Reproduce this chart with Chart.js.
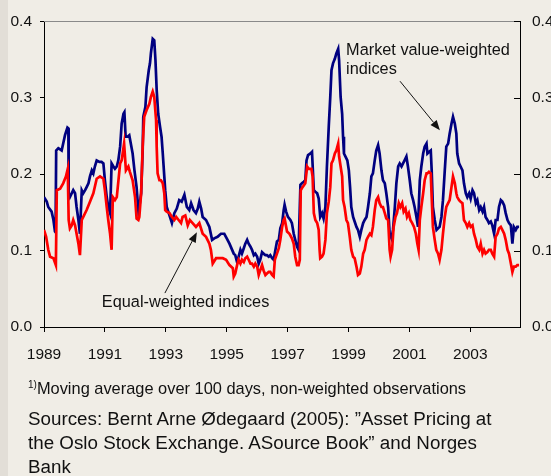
<!DOCTYPE html>
<html lang="en">

<head>
    <meta charset="UTF-8">
    <title>Volatility Oslo Stock Exchange</title>
    <script src="https://cdn.jsdelivr.net/npm/chart.js@4.4.0/dist/chart.umd.min.js"></script>
    <style>
        body { margin: 0; background: #f0ede6; font-family: 'Liberation Sans', Arial, sans-serif; color: #111; }
        #wrap { position: relative; width: 551px; height: 476px; overflow: hidden; }
        #strip { position: absolute; left: 0; top: 0; width: 8px; height: 476px; background: #e2ded7; }
        .note { position: absolute; left: 28px; top: 378px; font-size: 16.4px; line-height: 20px; white-space: nowrap; }
        .note sup { font-size: 10px; vertical-align: 6px; line-height: 0; }
        .src { position: absolute; left: 28px; top: 407px; font-size: 18.8px; line-height: 24px; white-space: nowrap; }
    </style>
</head>

<body>
    <div id="wrap">
        <div id="strip"></div>
        <canvas id="myChart"></canvas>
        <div class="note"><sup>1)</sup>Moving average over 100 days, non-weighted observations</div>
        <div class="src">Sources: Bernt Arne Ødegaard (2005): ”Asset Pricing at<br>the Oslo Stock Exchange. ASource Book” and Norges<br>Bank</div>
    </div>

    <script>
        // market value-weighted indices (blue)
        const mvYears = [
            1989.00, 1989.09, 1989.14, 1989.25, 1989.31, 1989.36, 1989.38, 1989.40, 1989.47, 1989.58,
            1989.63, 1989.69, 1989.77, 1989.80, 1989.81, 1989.85, 1989.96, 1990.02, 1990.07, 1990.13,
            1990.18, 1990.24, 1990.29, 1990.35, 1990.40, 1990.46, 1990.51, 1990.57, 1990.62, 1990.67,
            1990.73, 1990.82, 1990.89, 1990.95, 1991.00, 1991.06, 1991.11, 1991.17, 1991.22, 1991.28,
            1991.33, 1991.39, 1991.44, 1991.50, 1991.55, 1991.61, 1991.64, 1991.68, 1991.74, 1991.80,
            1991.85, 1991.91, 1991.97, 1992.04, 1992.10, 1992.13, 1992.19, 1992.24, 1992.26, 1992.33,
            1992.37, 1992.44, 1992.48, 1992.51, 1992.57, 1992.62, 1992.66, 1992.70, 1992.75, 1992.81,
            1992.86, 1992.90, 1992.95, 1992.98, 1993.03, 1993.12, 1993.20, 1993.28, 1993.36, 1993.44,
            1993.52, 1993.61, 1993.69, 1993.77, 1993.83, 1993.91, 1993.99, 1994.05, 1994.10, 1994.16,
            1994.21, 1994.32, 1994.43, 1994.52, 1994.59, 1994.70, 1994.81, 1994.92, 1995.00, 1995.09,
            1995.23, 1995.28, 1995.34, 1995.39, 1995.45, 1995.50, 1995.56, 1995.61, 1995.67, 1995.72,
            1995.78, 1995.83, 1995.89, 1995.94, 1996.00, 1996.05, 1996.10, 1996.16, 1996.21, 1996.27,
            1996.32, 1996.38, 1996.43, 1996.49, 1996.54, 1996.60, 1996.65, 1996.71, 1996.76, 1996.82,
            1996.87, 1996.90, 1996.95, 1997.01, 1997.09, 1997.14, 1997.20, 1997.25, 1997.31, 1997.36,
            1997.42, 1997.47, 1997.53, 1997.58, 1997.62, 1997.67, 1997.75, 1997.80, 1997.86, 1997.91,
            1997.97, 1998.02, 1998.07, 1998.13, 1998.18, 1998.24, 1998.29, 1998.35, 1998.40, 1998.44,
            1998.49, 1998.55, 1998.60, 1998.66, 1998.69, 1998.74, 1998.79, 1998.82, 1998.85, 1998.90,
            1998.96, 1999.01, 1999.05, 1999.09, 1999.15, 1999.20, 1999.26, 1999.31, 1999.37, 1999.42,
            1999.48, 1999.53, 1999.59, 1999.64, 1999.70, 1999.75, 1999.80, 1999.86, 1999.91, 1999.97,
            2000.02, 2000.08, 2000.13, 2000.19, 2000.24, 2000.30, 2000.35, 2000.41, 2000.46, 2000.52,
            2000.57, 2000.63, 2000.68, 2000.74, 2000.79, 2000.84, 2000.90, 2000.95, 2001.01, 2001.06,
            2001.12, 2001.17, 2001.23, 2001.28, 2001.34, 2001.39, 2001.45, 2001.50, 2001.56, 2001.59,
            2001.64, 2001.70, 2001.73, 2001.77, 2001.83, 2001.89, 2001.94, 2001.99, 2002.05, 2002.10,
            2002.16, 2002.21, 2002.27, 2002.32, 2002.38, 2002.43, 2002.49, 2002.54, 2002.57, 2002.63,
            2002.68, 2002.74, 2002.79, 2002.85, 2002.90, 2002.96, 2003.01, 2003.07, 2003.12, 2003.18,
            2003.23, 2003.29, 2003.34, 2003.40, 2003.45, 2003.50, 2003.56, 2003.61, 2003.67, 2003.72,
            2003.78, 2003.83, 2003.89, 2003.94, 2004.00, 2004.05, 2004.11, 2004.16, 2004.22, 2004.27,
            2004.33, 2004.38, 2004.43, 2004.49, 2004.54, 2004.60
        ];
        const mvValues = [
            0.170, 0.164, 0.157, 0.151, 0.140, 0.125, 0.124, 0.231, 0.234, 0.231,
            0.240, 0.251, 0.261, 0.260, 0.175, 0.170, 0.179, 0.175, 0.157, 0.140,
            0.122, 0.179, 0.175, 0.179, 0.183, 0.188, 0.197, 0.205, 0.201, 0.210,
            0.218, 0.216, 0.216, 0.214, 0.192, 0.170, 0.157, 0.149, 0.214, 0.210,
            0.207, 0.210, 0.218, 0.236, 0.266, 0.279, 0.281, 0.249, 0.249, 0.251,
            0.240, 0.227, 0.205, 0.183, 0.151, 0.157, 0.175, 0.231, 0.275, 0.288,
            0.314, 0.336, 0.345, 0.358, 0.377, 0.375, 0.349, 0.310, 0.279, 0.262,
            0.249, 0.227, 0.197, 0.179, 0.157, 0.146, 0.136, 0.149, 0.155, 0.166,
            0.164, 0.173, 0.157, 0.153, 0.162, 0.153, 0.149, 0.155, 0.164, 0.155,
            0.144, 0.140, 0.131, 0.114, 0.116, 0.118, 0.122, 0.122, 0.116, 0.109,
            0.096, 0.094, 0.085, 0.092, 0.101, 0.096, 0.103, 0.109, 0.114, 0.109,
            0.105, 0.101, 0.094, 0.096, 0.092, 0.083, 0.088, 0.098, 0.096, 0.094,
            0.094, 0.092, 0.094, 0.090, 0.088, 0.101, 0.112, 0.114, 0.129, 0.136,
            0.153, 0.160, 0.151, 0.144, 0.140, 0.136, 0.122, 0.114, 0.105, 0.101,
            0.186, 0.188, 0.190, 0.192, 0.218, 0.225, 0.227, 0.229, 0.179, 0.177,
            0.175, 0.168, 0.144, 0.149, 0.142, 0.157, 0.210, 0.262, 0.301, 0.336,
            0.345, 0.351, 0.358, 0.364, 0.349, 0.301, 0.279, 0.249, 0.227, 0.223,
            0.218, 0.205, 0.183, 0.157, 0.144, 0.138, 0.131, 0.127, 0.118, 0.127,
            0.136, 0.140, 0.144, 0.157, 0.175, 0.197, 0.201, 0.218, 0.231, 0.238,
            0.227, 0.205, 0.192, 0.188, 0.175, 0.157, 0.122, 0.116, 0.127, 0.157,
            0.188, 0.210, 0.214, 0.210, 0.214, 0.218, 0.223, 0.210, 0.192, 0.175,
            0.166, 0.157, 0.144, 0.131, 0.192, 0.210, 0.227, 0.236, 0.240, 0.227,
            0.229, 0.231, 0.205, 0.157, 0.140, 0.127, 0.129, 0.131, 0.144, 0.166,
            0.205, 0.236, 0.240, 0.253, 0.266, 0.275, 0.266, 0.253, 0.227, 0.214,
            0.210, 0.205, 0.188, 0.175, 0.170, 0.175, 0.168, 0.179, 0.175, 0.162,
            0.166, 0.153, 0.157, 0.151, 0.157, 0.144, 0.140, 0.136, 0.138, 0.133,
            0.122, 0.140, 0.140, 0.157, 0.166, 0.164, 0.159, 0.149, 0.140, 0.136,
            0.133, 0.109, 0.131, 0.127, 0.131, 0.131
        ];

        // equal-weighted indices (red)
        const ewYears = [
            1989.00, 1989.07, 1989.14, 1989.20, 1989.31, 1989.39, 1989.42, 1989.53, 1989.63, 1989.72,
            1989.78, 1989.81, 1989.85, 1989.91, 1989.96, 1990.02, 1990.07, 1990.13, 1990.18, 1990.24,
            1990.29, 1990.40, 1990.51, 1990.62, 1990.73, 1990.84, 1990.95, 1991.00, 1991.06, 1991.11,
            1991.17, 1991.22, 1991.26, 1991.33, 1991.39, 1991.50, 1991.55, 1991.63, 1991.69, 1991.77,
            1991.82, 1991.91, 1991.99, 1992.04, 1992.10, 1992.13, 1992.19, 1992.24, 1992.29, 1992.37,
            1992.46, 1992.51, 1992.57, 1992.62, 1992.68, 1992.70, 1992.73, 1992.79, 1992.84, 1992.90,
            1992.95, 1992.98, 1993.03, 1993.12, 1993.20, 1993.28, 1993.34, 1993.42, 1993.50, 1993.55,
            1993.64, 1993.72, 1993.79, 1993.88, 1993.99, 1994.10, 1994.21, 1994.32, 1994.43, 1994.48,
            1994.54, 1994.65, 1994.76, 1994.87, 1994.98, 1995.09, 1995.20, 1995.23, 1995.28, 1995.34,
            1995.39, 1995.45, 1995.50, 1995.56, 1995.61, 1995.67, 1995.72, 1995.78, 1995.83, 1995.89,
            1995.94, 1996.00, 1996.05, 1996.10, 1996.16, 1996.21, 1996.27, 1996.32, 1996.38, 1996.43,
            1996.49, 1996.54, 1996.58, 1996.65, 1996.71, 1996.76, 1996.82, 1996.87, 1996.90, 1996.98,
            1997.06, 1997.14, 1997.20, 1997.25, 1997.31, 1997.36, 1997.40, 1997.43, 1997.49, 1997.58,
            1997.64, 1997.69, 1997.78, 1997.82, 1997.86, 1997.91, 1997.97, 1998.02, 1998.05, 1998.07,
            1998.13, 1998.18, 1998.24, 1998.29, 1998.35, 1998.40, 1998.44, 1998.49, 1998.55, 1998.60,
            1998.66, 1998.69, 1998.74, 1998.79, 1998.82, 1998.87, 1998.93, 1998.98, 1999.04, 1999.09,
            1999.15, 1999.20, 1999.26, 1999.31, 1999.37, 1999.42, 1999.48, 1999.53, 1999.59, 1999.64,
            1999.70, 1999.75, 1999.80, 1999.86, 1999.91, 1999.97, 2000.02, 2000.08, 2000.13, 2000.19,
            2000.24, 2000.30, 2000.35, 2000.38, 2000.43, 2000.48, 2000.54, 2000.59, 2000.65, 2000.70,
            2000.76, 2000.81, 2000.87, 2000.92, 2000.98, 2001.03, 2001.09, 2001.15, 2001.21, 2001.26,
            2001.30, 2001.34, 2001.39, 2001.45, 2001.50, 2001.56, 2001.59, 2001.64, 2001.70, 2001.73,
            2001.77, 2001.83, 2001.88, 2001.94, 2001.99, 2002.05, 2002.10, 2002.16, 2002.21, 2002.27,
            2002.32, 2002.38, 2002.43, 2002.49, 2002.54, 2002.57, 2002.63, 2002.68, 2002.74, 2002.79,
            2002.85, 2002.90, 2002.96, 2003.01, 2003.07, 2003.12, 2003.18, 2003.23, 2003.29, 2003.34,
            2003.40, 2003.45, 2003.50, 2003.56, 2003.61, 2003.67, 2003.72, 2003.78, 2003.83, 2003.89,
            2003.94, 2004.00, 2004.05, 2004.11, 2004.16, 2004.22, 2004.27, 2004.33, 2004.38, 2004.43,
            2004.49, 2004.54, 2004.60
        ];
        const ewValues = [
            0.127, 0.118, 0.101, 0.092, 0.090, 0.081, 0.179, 0.181, 0.188, 0.197,
            0.207, 0.140, 0.129, 0.133, 0.140, 0.133, 0.122, 0.109, 0.094, 0.140,
            0.144, 0.153, 0.164, 0.175, 0.194, 0.197, 0.194, 0.179, 0.157, 0.140,
            0.122, 0.101, 0.170, 0.166, 0.170, 0.214, 0.218, 0.240, 0.205, 0.210,
            0.203, 0.192, 0.170, 0.142, 0.140, 0.144, 0.175, 0.236, 0.275, 0.284,
            0.292, 0.301, 0.308, 0.301, 0.271, 0.236, 0.201, 0.192, 0.192, 0.188,
            0.175, 0.153, 0.151, 0.149, 0.144, 0.140, 0.144, 0.140, 0.136, 0.144,
            0.146, 0.133, 0.140, 0.136, 0.131, 0.136, 0.122, 0.118, 0.109, 0.101,
            0.083, 0.090, 0.090, 0.090, 0.088, 0.081, 0.077, 0.066, 0.070, 0.081,
            0.088, 0.083, 0.088, 0.085, 0.090, 0.092, 0.088, 0.083, 0.083, 0.079,
            0.083, 0.079, 0.068, 0.074, 0.081, 0.074, 0.068, 0.070, 0.072, 0.072,
            0.068, 0.066, 0.088, 0.096, 0.103, 0.114, 0.131, 0.140, 0.142, 0.125,
            0.122, 0.116, 0.109, 0.092, 0.081, 0.081, 0.088, 0.179, 0.183, 0.188,
            0.210, 0.207, 0.207, 0.197, 0.149, 0.140, 0.136, 0.127, 0.101, 0.090,
            0.092, 0.096, 0.114, 0.149, 0.164, 0.183, 0.214, 0.218, 0.227, 0.231,
            0.240, 0.223, 0.210, 0.197, 0.166, 0.157, 0.140, 0.136, 0.118, 0.101,
            0.092, 0.090, 0.079, 0.068, 0.070, 0.079, 0.096, 0.101, 0.114, 0.118,
            0.122, 0.120, 0.131, 0.153, 0.166, 0.170, 0.162, 0.157, 0.157, 0.149,
            0.142, 0.140, 0.101, 0.092, 0.101, 0.131, 0.144, 0.149, 0.162, 0.157,
            0.162, 0.151, 0.155, 0.144, 0.149, 0.140, 0.136, 0.131, 0.122, 0.109,
            0.101, 0.140, 0.157, 0.175, 0.192, 0.201, 0.201, 0.203, 0.201, 0.170,
            0.131, 0.114, 0.101, 0.096, 0.088, 0.101, 0.122, 0.144, 0.157, 0.162,
            0.166, 0.183, 0.197, 0.188, 0.175, 0.170, 0.166, 0.164, 0.162, 0.140,
            0.136, 0.131, 0.136, 0.131, 0.133, 0.122, 0.114, 0.105, 0.101, 0.109,
            0.096, 0.101, 0.096, 0.098, 0.101, 0.101, 0.096, 0.092, 0.118, 0.122,
            0.129, 0.131, 0.127, 0.122, 0.114, 0.101, 0.096, 0.083, 0.072, 0.079,
            0.079, 0.081, 0.081
        ];

        const xTickYears = [1989, 1991, 1993, 1995, 1997, 1999, 2001, 2003];
        const yTicks = [0, 0.1, 0.2, 0.3, 0.4];
        const xRange = [1989, 2004.63];

        // annotations: text anchor and arrow tail/tip in data units
        const mvNote = { lines: ['Market value-weighted', 'indices'], at: [1998.92, 0.3556], tail: [2000.69, 0.3216], tip: [2002.0, 0.2575] };
        const ewNote = { lines: ['Equal-weighted indices'], at: [1990.90, 0.0261], tail: [1992.97, 0.0444], tip: [1994.02, 0.124] };

        const toPoints = (xs, ys) => xs.map((x, i) => ({ x: x, y: ys[i] }));

        const tickFont = { family: "'Liberation Sans', Arial", size: 15.5 };

        const extras = {
            id: 'extras',
            afterDatasetsDraw(chart) {
                const { ctx, chartArea: a, scales } = chart;
                const sx = scales.x, sy = scales.y;
                ctx.save();
                // gray frame line on top
                ctx.strokeStyle = '#8a8a8a';
                ctx.lineWidth = 1;
                ctx.beginPath();
                ctx.moveTo(a.left, Math.round(a.top) + 0.5);
                ctx.lineTo(a.right, Math.round(a.top) + 0.5);
                ctx.stroke();
                // inner ticks on the right axis
                ctx.strokeStyle = '#000';
                yTicks.forEach(v => {
                    const py = Math.round(sy.getPixelForValue(v)) + 0.5;
                    ctx.beginPath();
                    ctx.moveTo(a.right - 6, py);
                    ctx.lineTo(a.right, py);
                    ctx.stroke();
                });
                // annotation texts and arrows
                ctx.fillStyle = '#111';
                ctx.font = "16.3px 'Liberation Sans', Arial";
                ctx.textBaseline = 'alphabetic';
                [mvNote, ewNote].forEach(n => {
                    const px = sx.getPixelForValue(n.at[0]);
                    const py = sy.getPixelForValue(n.at[1]);
                    n.lines.forEach((t, i) => ctx.fillText(t, px, py + i * 19));
                    const x0 = sx.getPixelForValue(n.tail[0]), y0 = sy.getPixelForValue(n.tail[1]);
                    const x1 = sx.getPixelForValue(n.tip[0]), y1 = sy.getPixelForValue(n.tip[1]);
                    const ang = Math.atan2(y1 - y0, x1 - x0);
                    const hl = 10, hw = 4;
                    ctx.strokeStyle = '#111';
                    ctx.lineWidth = 1;
                    ctx.beginPath();
                    ctx.moveTo(x0, y0);
                    ctx.lineTo(x1 - hl * Math.cos(ang), y1 - hl * Math.sin(ang));
                    ctx.stroke();
                    ctx.beginPath();
                    ctx.moveTo(x1, y1);
                    ctx.lineTo(x1 - hl * Math.cos(ang) + hw * Math.sin(ang), y1 - hl * Math.sin(ang) - hw * Math.cos(ang));
                    ctx.lineTo(x1 - hl * Math.cos(ang) - hw * Math.sin(ang), y1 - hl * Math.sin(ang) + hw * Math.cos(ang));
                    ctx.closePath();
                    ctx.fill();
                });
                ctx.restore();
            }
        };

        const ctx = document.getElementById('myChart').getContext('2d');
        let volChart = new Chart(ctx, {
            type: 'line',
            data: {
                datasets: [
                    {
                        label: 'Equal-weighted indices',
                        data: toPoints(ewYears, ewValues),
                        borderColor: '#ff0000',
                        borderWidth: 2.7,
                        pointRadius: 0,
                        tension: 0
                    },
                    {
                        label: 'Market value-weighted indices',
                        data: toPoints(mvYears, mvValues),
                        borderColor: '#000080',
                        borderWidth: 2.7,
                        pointRadius: 0,
                        tension: 0
                    }]
            },
            options: {
                responsive: true,
                maintainAspectRatio: false,
                animation: false,
                layout: { padding: { top: 21, left: 0, right: 0, bottom: 0 } },
                plugins: {
                    legend: { display: false },
                    tooltip: { enabled: false }
                },
                scales: {
                    x: {
                        type: 'linear',
                        min: xRange[0],
                        max: xRange[1],
                        afterBuildTicks: s => { s.ticks = xTickYears.map(v => ({ value: v })); },
                        afterFit: s => { s.height = 149; },
                        grid: { drawOnChartArea: false, color: '#000', tickLength: 5 },
                        border: { color: '#000' },
                        ticks: { color: '#111', font: tickFont, padding: 13, maxRotation: 0, callback: v => String(v) }
                    },
                    y: {
                        position: 'left',
                        min: 0,
                        max: 0.4,
                        afterBuildTicks: s => { s.ticks = yTicks.map(v => ({ value: v })); },
                        afterFit: s => { s.width = 44; },
                        grid: { drawOnChartArea: false, color: '#000', tickLength: 4 },
                        border: { color: '#000' },
                        ticks: { color: '#111', font: tickFont, padding: 8, callback: v => v.toFixed(1) }
                    },
                    y2: {
                        position: 'right',
                        min: 0,
                        max: 0.4,
                        afterBuildTicks: s => { s.ticks = yTicks.map(v => ({ value: v })); },
                        afterFit: s => { s.width = 31; },
                        grid: { drawOnChartArea: false, drawTicks: false },
                        border: { color: '#000' },
                        ticks: { color: '#111', font: tickFont, padding: 12, callback: v => v.toFixed(1) }
                    }
                }
            },
            plugins: [extras]
        });
    </script>
</body>

</html>
